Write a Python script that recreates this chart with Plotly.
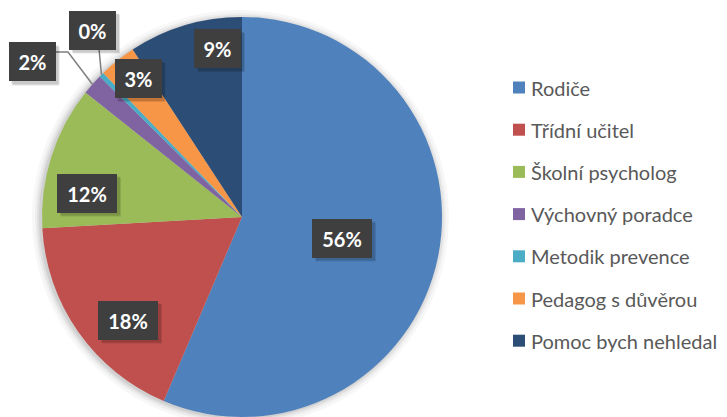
import math
import plotly.graph_objects as go

# ---- data ----
labels = ["Rodiče", "Třídní učitel", "Školní psycholog", "Výchovný poradce",
          "Metodik prevence", "Pedagog s důvěrou", "Pomoc bych nehledal"]
values = [56.4, 17.7, 11.6, 1.7, 0.4, 3.0, 9.2]
colors = ["#4F81BD", "#C0504D", "#9BBB59", "#8064A2", "#4BACC6", "#F79646", "#2C4D75"]

# ---- layout geometry (pixels) ----
W, H = 727, 417
CX, CY, R = 242, 217, 200          # pie centre / radius in px (from top-left)

def px(x):
    return x / W

def py(y):
    return 1 - y / H

# label box centres (px) — layout positions
label_pos = [(342, 238), (128, 320), (87, 193), (32, 62), (92.5, 30), (138, 78.5), (217.5, 48.5)]
# leader-line elbows for the tiny slices (index -> list of px points before the slice edge)
leaders = {3: [(56, 52), (68, 52)], 4: [(99, 49)]}

fig = go.Figure()
fig.add_trace(go.Pie(
    labels=labels, values=values, sort=False, direction="clockwise", rotation=0,
    marker=dict(colors=colors, line=dict(width=0)),
    textinfo="none", hoverinfo="skip", showlegend=False,
    domain=dict(x=[px(CX - R), px(CX + R)], y=[py(CY + R), py(CY - R)]),
))

shapes = []
# soft shadow around the pie
for d, op in [(9, 0.03), (6, 0.04), (4, 0.05), (2, 0.07)]:
    shapes.append(dict(type="circle", xref="paper", yref="paper", layer="below",
                       x0=px(CX - R - d - 1), x1=px(CX + R + d - 2),
                       y0=py(CY + R + d), y1=py(CY - R - d + 2),
                       fillcolor=f"rgba(0,0,0,{op})", line=dict(width=0)))

annotations = []
total = sum(values)
cum = 0.0
for i, v in enumerate(values):
    mid = (cum + v / 2) / total * 2 * math.pi
    cum += v
    pct = f"{round(v / total * 100):d}%"
    lx, ly = label_pos[i]
    bw = 60 if len(pct) == 3 else 47
    bh = 39
    # leader line
    if i in leaders:
        ex = CX + R * math.sin(mid)
        ey = CY - R * math.cos(mid)
        pts = leaders[i] + [(ex, ey)]
        path = "M " + " L ".join(f"{px(a)},{py(b)}" for a, b in pts)
        shapes.append(dict(type="path", xref="paper", yref="paper", path=path,
                           line=dict(color="#7F7F7F", width=1.5)))
    # box shadow
    for s, op in [(4, 0.10), (3, 0.12)]:
        shapes.append(dict(type="rect", xref="paper", yref="paper",
                           x0=px(lx - bw / 2 + s), x1=px(lx + bw / 2 + s),
                           y0=py(ly + bh / 2 + s), y1=py(ly - bh / 2 + s),
                           fillcolor=f"rgba(0,0,0,{op})", line=dict(width=0)))
    annotations.append(dict(x=px(lx), y=py(ly), xref="paper", yref="paper",
                            text=f"<b>{pct}</b>", showarrow=False, xanchor="center",
                            yanchor="middle", width=bw - 14, height=bh - 14, borderpad=6,
                            borderwidth=1, bordercolor="#3F3F3F",
                            font=dict(family="Lato", size=20, color="white"),
                            bgcolor="#3F3F3F"))

# manual legend
LEG_X, LEG_Y0, LEG_DY = 513, 87.5, 42.2
for i, (lab, col) in enumerate(zip(labels, colors)):
    yy = LEG_Y0 + i * LEG_DY
    shapes.append(dict(type="rect", xref="paper", yref="paper",
                       x0=px(LEG_X), x1=px(LEG_X + 12), y0=py(yy + 6), y1=py(yy - 6),
                       fillcolor=col, line=dict(width=0)))
    annotations.append(dict(x=px(LEG_X + 16), y=py(yy), xref="paper", yref="paper",
                            text=lab, showarrow=False, xanchor="left", yanchor="middle",
                            font=dict(family="Lato", size=20, color="#595959")))

fig.update_layout(
    width=W, height=H, margin=dict(l=0, r=0, t=0, b=0),
    paper_bgcolor="white", plot_bgcolor="white",
    shapes=shapes, annotations=annotations,
)
fig.write_html("out.html", config={"displayModeBar": False},
               post_script="document.body.style.margin='0';")
